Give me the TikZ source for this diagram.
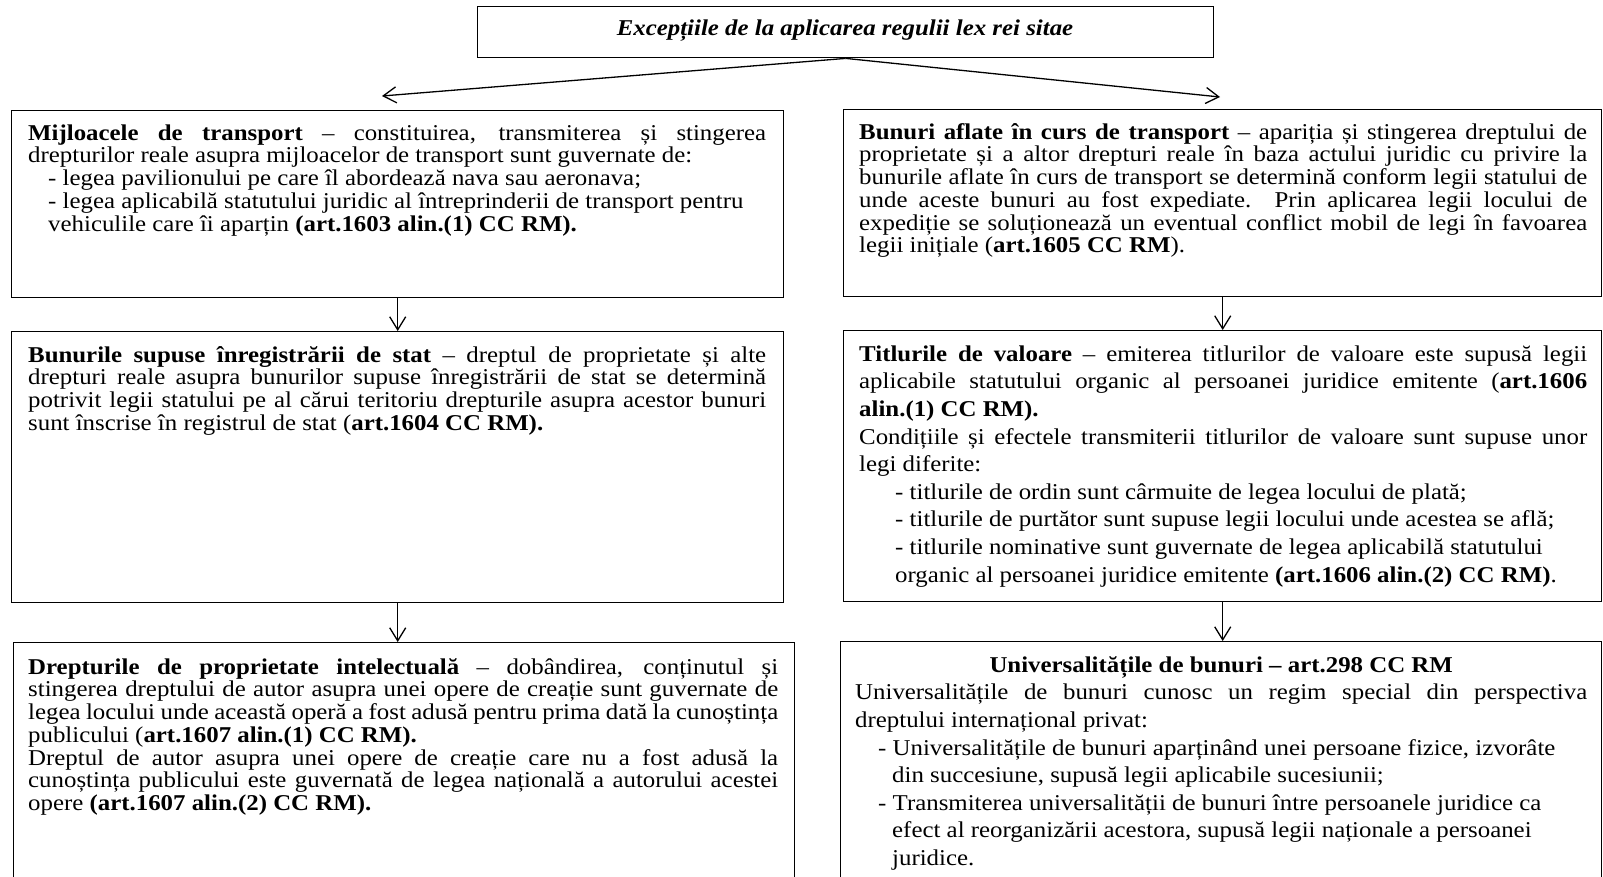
\documentclass[tikz,border=0pt]{standalone}
\usepackage{fontspec}
\setmainfont{Liberation Serif}[FakeStretch=1.1]
\usetikzlibrary{arrows.meta}
\newcommand\fsA{\fontsize{22.6}{22.7}\selectfont\parindent=0pt\parskip=0pt}
\newcommand\fsB{\fontsize{22.6}{27.6}\selectfont\parindent=0pt\parskip=0pt}
\newcommand\tstrut{\rule{0pt}{17pt}}
\newcommand\lineind[2]{\par{\leftskip=#1\rightskip=0pt plus 1fil\relax #2\par}}
\begin{document}
\begin{tikzpicture}[x=1pt,y=1pt,
  box/.style={draw, line width=1.4pt, anchor=north west, inner sep=0pt},
  txt/.style={anchor=north west, inner sep=0pt, align=justify},
  arr/.style={line width=1.3pt, -{Straight Barb[length=13pt,width=16pt,line width=1.3pt]}}]
\useasboundingbox (0,0) rectangle (1603,-876);
\clip (0,0) rectangle (1603,-876);
% top
\node[box, minimum width=736pt, minimum height=51pt] (top) at (477,-6) {};
\node[inner sep=0pt, font=\fsA] (toptxt) at (845,-31) {\textbf{\textit{Excepțiile de la aplicarea regulii lex rei sitae}}};
\coordinate (al) at (382,-96);
\coordinate (ar) at (1220,-97);
\draw[arr] (top.south) -- (al);
\draw[arr] (top.south) -- (ar);
% boxes
\node[box, minimum width=772pt, minimum height=187pt] (l1) at (11,-110) {};
\node[box, minimum width=758pt, minimum height=187pt] (r1) at (843,-109) {};
\node[box, minimum width=772pt, minimum height=271pt] (l2) at (11,-331) {};
\node[box, minimum width=758pt, minimum height=271pt] (r2) at (843,-330) {};
\node[box, minimum width=781pt, minimum height=260pt] (l3) at (13,-642) {};
\node[box, minimum width=761pt, minimum height=260pt] (r3) at (840,-641) {};
% arrows
\draw[arr] (l1.south) -- (l2.north);
\draw[arr] (l2.south) -- (l2.south |- l3.north);
\draw[arr] (r1.south) -- (r2.north);
\draw[arr] (r2.south) -- (r2.south |- r3.north);
% texts
\node[txt, text width=738pt, font=\fsA] (l1t) at (28,-123) {\tstrut\textbf{Mijloacele de transport} – constituirea, transmiterea și stingerea\linebreak
drepturilor reale asupra mijloacelor de transport sunt guvernate de:
\lineind{20pt}{- legea pavilionului pe care îl abordează nava sau aeronava;}
\lineind{20pt}{- legea aplicabilă statutului juridic al întreprinderii de transport pentru}
\lineind{20pt}{vehiculile care îi aparțin \textbf{(art.1603 alin.(1) CC RM).}}};
\node[txt, text width=728pt, font=\fsA] (r1t) at (859,-122) {\tstrut\textbf{Bunuri aflate în curs de transport} – apariția și stingerea dreptului de\linebreak
proprietate și a altor drepturi reale în baza actului juridic cu privire la\linebreak
bunurile aflate în curs de transport se determină conform legii statului de\linebreak
unde aceste bunuri au fost expediate. Prin aplicarea legii locului de\linebreak
expediție se soluționează un eventual conflict mobil de legi în favoarea\linebreak
legii inițiale (\textbf{art.1605 CC RM}).};
\node[txt, text width=738pt, font=\fsA] (l2t) at (28,-345) {\tstrut\textbf{Bunurile supuse înregistrării de stat} – dreptul de proprietate și alte\linebreak
drepturi reale asupra bunurilor supuse înregistrării de stat se determină\linebreak
potrivit legii statului pe al cărui teritoriu drepturile asupra acestor bunuri\linebreak
sunt înscrise în registrul de stat (\textbf{art.1604 CC RM).}};
\node[txt, text width=728pt, font=\fsB] (r2t) at (859,-344) {\tstrut\textbf{Titlurile de valoare} – emiterea titlurilor de valoare este supusă legii\linebreak
aplicabile statutului organic al persoanei juridice emitente (\textbf{art.1606\linebreak
alin.(1) CC RM).}\par
Condițiile și efectele transmiterii titlurilor de valoare sunt supuse unor\linebreak
legi diferite:
\lineind{36pt}{- titlurile de ordin sunt cârmuite de legea locului de plată;}
\lineind{36pt}{- titlurile de purtător sunt supuse legii locului unde acestea se află;}
\lineind{36pt}{- titlurile nominative sunt guvernate de legea aplicabilă statutului}
\lineind{36pt}{organic al persoanei juridice emitente \textbf{(art.1606 alin.(2) CC RM)}.}};
\node[txt, text width=750pt, font=\fsA] (l3t) at (28,-657) {\tstrut\textbf{Drepturile de proprietate intelectuală} – dobândirea, conținutul și\linebreak
stingerea dreptului de autor asupra unei opere de creație sunt guvernate de\linebreak
legea locului unde această operă a fost adusă pentru prima dată la cunoștința\linebreak
publicului (\textbf{art.1607 alin.(1) CC RM).}\par
Dreptul de autor asupra unei opere de creație care nu a fost adusă la\linebreak
cunoștința publicului este guvernată de legea națională a autorului acestei\linebreak
opere \textbf{(art.1607 alin.(2) CC RM).}};
\node[txt, text width=732pt, font=\fsB] (r3t) at (855,-655) {{\centering\tstrut\textbf{Universalitățile de bunuri – art.298 CC RM}\par}
Universalitățile de bunuri cunosc un regim special din perspectiva\linebreak
dreptului internațional privat:
\lineind{23pt}{- Universalitățile de bunuri aparținând unei persoane fizice, izvorâte}
\lineind{37pt}{din succesiune, supusă legii aplicabile sucesiunii;}
\lineind{23pt}{- Transmiterea universalității de bunuri între persoanele juridice ca}
\lineind{37pt}{efect al reorganizării acestora, supusă legii naționale a persoanei}
\lineind{37pt}{juridice.}};
\end{tikzpicture}
\end{document}
